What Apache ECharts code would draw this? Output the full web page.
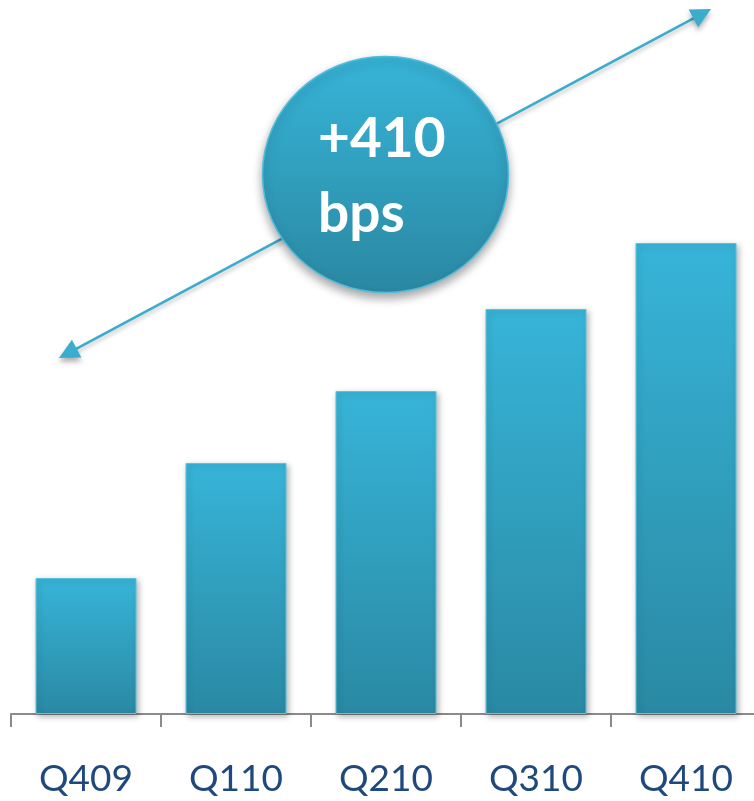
<!DOCTYPE html>
<html>
<head>
<meta charset="utf-8">
<script src="https://cdn.jsdelivr.net/npm/echarts@6/dist/echarts.min.js"></script>
<style>
html,body{margin:0;padding:0;background:#fff;overflow:hidden;}
#chart{width:770px;height:801px;}
</style>
</head>
<body>
<div id="chart"></div>
<script>
// Data (bar heights, arbitrary units)
var categories = ['Q409', 'Q110', 'Q210', 'Q310', 'Q410'];
var values = [136, 251, 323, 405, 471];
var calloutLines = ['+410', 'bps'];

var chart = echarts.init(document.getElementById('chart'));

function arrowHead(tipX, tipY, ux, uy, len, half) {
  var bx = tipX - ux * len, by = tipY - uy * len;
  var nx = -uy, ny = ux;
  return [[tipX, tipY], [bx + nx * half, by + ny * half], [bx - nx * half, by - ny * half]];
}
var A = [59, 358], B = [711, 9];
var dx = B[0] - A[0], dy = B[1] - A[1], L = Math.sqrt(dx * dx + dy * dy);
var ux = dx / L, uy = dy / L;
var arrowColor = '#3aaccd';

var option = {
  backgroundColor: '#ffffff',
  animation: false,
  grid: { left: 11, top: 14, width: 750, bottom: 87, containLabel: false },
  xAxis: {
    type: 'category',
    data: categories,
    axisLine: { lineStyle: { color: '#8a8a8a', width: 2 } },
    axisTick: { show: true, length: 13, lineStyle: { color: '#8a8a8a', width: 2 } },
    axisLabel: { color: '#1f497d', fontFamily: 'Lato', fontSize: 37, margin: 47 }
  },
  yAxis: { type: 'value', min: 0, max: 700, show: false, splitLine: { show: false } },
  series: [{
    type: 'bar',
    data: values,
    barWidth: 101,
    itemStyle: {
      color: new echarts.graphic.LinearGradient(0, 0, 0, 1, [
        { offset: 0, color: '#37b4d8' },
        { offset: 1, color: '#2a89a3' }
      ]),
      borderColor: '#5cc3de',
      borderWidth: 1,
      shadowColor: 'rgba(0,0,0,0.3)',
      shadowBlur: 6,
      shadowOffsetX: 2,
      shadowOffsetY: 2
    }
  }],
  graphic: [
    {
      type: 'line', z: 10,
      shape: { x1: A[0] + ux * 12, y1: A[1] + uy * 12, x2: B[0] - ux * 12, y2: B[1] - uy * 12 },
      style: { stroke: arrowColor, lineWidth: 2.5, shadowColor: 'rgba(0,0,0,0.25)', shadowBlur: 4, shadowOffsetY: 3 }
    },
    {
      type: 'polygon', z: 10,
      shape: { points: arrowHead(A[0], A[1], -ux, -uy, 20, 10) },
      style: { fill: arrowColor, shadowColor: 'rgba(0,0,0,0.3)', shadowBlur: 5, shadowOffsetY: 4 }
    },
    {
      type: 'polygon', z: 10,
      shape: { points: arrowHead(B[0], B[1], ux, uy, 20, 10) },
      style: { fill: arrowColor, shadowColor: 'rgba(0,0,0,0.3)', shadowBlur: 5, shadowOffsetY: 4 }
    },
    {
      type: 'ellipse', z: 11,
      shape: { cx: 385.5, cy: 174.5, rx: 123, ry: 118 },
      style: {
        fill: new echarts.graphic.LinearGradient(0, 0, 0, 1, [
          { offset: 0, color: '#37b4d8' },
          { offset: 1, color: '#2a88a2' }
        ]),
        stroke: '#4fbddb', lineWidth: 1.5,
        shadowColor: 'rgba(0,0,0,0.35)', shadowBlur: 10, shadowOffsetY: 5
      }
    },
    {
      type: 'text', z: 12, x: 318, y: 139,
      style: { text: calloutLines[0], fill: '#ffffff', font: 'bold 55px Lato', verticalAlign: 'middle', align: 'left' }
    },
    {
      type: 'text', z: 12, x: 318, y: 214,
      style: { text: calloutLines[1], fill: '#ffffff', font: 'bold 55px Lato', verticalAlign: 'middle', align: 'left' }
    }
  ]
};
chart.setOption(option);
</script>
</body>
</html>
